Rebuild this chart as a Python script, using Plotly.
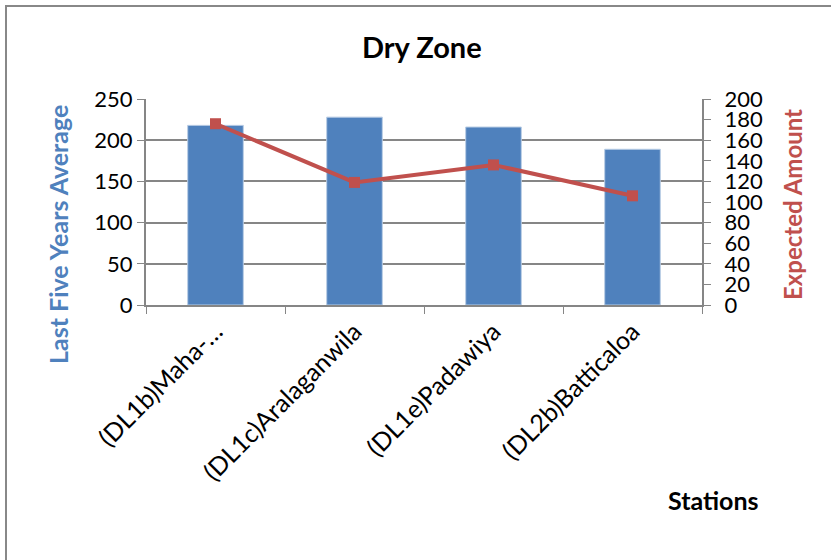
import plotly.graph_objects as go

stations = ["(DL1b)Maha-…", "(DL1c)Aralaganwila", "(DL1e)Padawiya", "(DL2b)Batticaloa"]
last_five_avg = [218, 228, 216, 189]
expected_amount = [176, 119, 136, 106]

FONT = "Lato"
W, H = 831, 560
L, R, T, B = 146, 129, 99, 255
PW, PH = W - L - R, H - T - B

def px(x):
    return (x - L) / PW

def py(y):
    return (H - B - y) / PH

fig = go.Figure()
fig.add_trace(go.Bar(x=stations, y=last_five_avg, marker_color="#4F81BD",
                     marker_line=dict(color="#B9CDE5", width=1), width=0.4,
                     name="Last Five Years Average", yaxis="y"))
fig.add_trace(go.Scatter(x=stations, y=expected_amount, mode="lines+markers",
                         line=dict(color="#C0504D", width=4),
                         marker=dict(symbol="square", size=11, color="#C0504D"),
                         name="Expected Amount", yaxis="y2"))

axcol = "#868686"
ann = dict(xref="paper", yref="paper", showarrow=False, xanchor="center", yanchor="middle")
fig.update_layout(
    width=W, height=H,
    margin=dict(l=L, r=R, t=T, b=B, autoexpand=False),
    paper_bgcolor="white", plot_bgcolor="white",
    showlegend=False,
    font=dict(family=FONT, size=22, color="black"),
    xaxis=dict(tickangle=-45, ticks="outside", tickson="boundaries", ticklen=7,
               tickcolor=axcol, linecolor=axcol, linewidth=2, showline=True,
               tickfont=dict(size=25), showgrid=False, automargin=False),
    yaxis=dict(range=[0, 250], dtick=50, ticks="outside", ticklen=7, tickcolor=axcol,
               showline=True, linecolor=axcol, linewidth=2, gridcolor=axcol, gridwidth=1.5,
               zeroline=False, tickfont=dict(size=22), automargin=False),
    yaxis2=dict(range=[0, 200], dtick=20, overlaying="y", side="right", ticks="outside",
                ticklen=7, tickcolor=axcol, showline=True, linecolor=axcol, linewidth=2,
                showgrid=False, zeroline=False, tickfont=dict(size=22), automargin=False,
                ticklabelstandoff=9),
    annotations=[
        dict(text="<b>Dry Zone</b>", x=px(422), y=py(47),
             font=dict(size=29, family=FONT), **ann),
        dict(text="<b>Stations</b>", x=px(713), y=py(500),
             font=dict(size=25, family=FONT), **ann),
        dict(text="<b>Last Five Years Average</b>", x=px(58), y=py(235), textangle=-90,
             font=dict(size=25, family=FONT, color="#4F81BD"), **ann),
        dict(text="<b>Expected Amount</b>", x=px(792), y=py(205), textangle=-90,
             font=dict(size=24, family=FONT, color="#C0504D"), **ann),
    ],
    shapes=[dict(type="rect", xref="paper", yref="paper",
                 x0=px(6), x1=px(900), y0=py(640), y1=py(6),
                 line=dict(color="#888888", width=2))],
)

fig.write_html("out.html", config={"displayModeBar": False},
               post_script="document.body.style.margin='0';")
